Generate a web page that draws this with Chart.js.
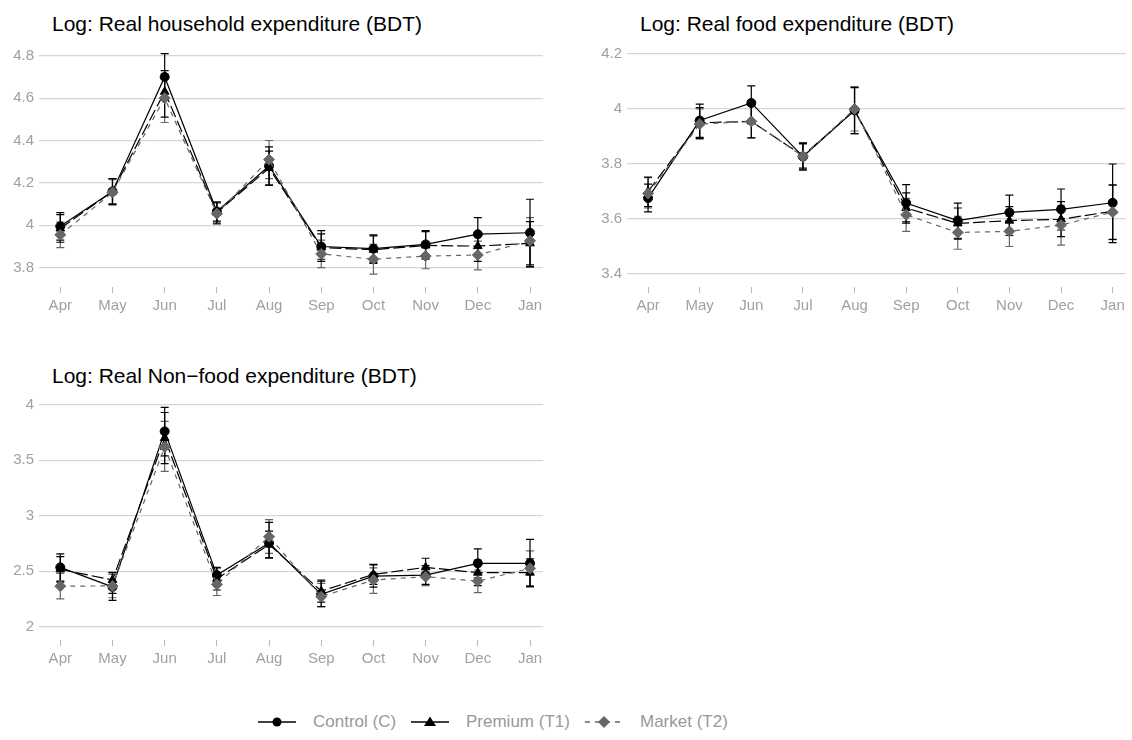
<!DOCTYPE html>
<html>
<head>
<meta charset="utf-8">
<script src="https://cdn.jsdelivr.net/npm/chart.js@4"></script>
<style>
  body { margin: 0; background: #fff; width: 1132px; height: 740px; position: relative; overflow: hidden;
         font-family: "Liberation Sans", Arial, sans-serif; }
  canvas { position: absolute; }
  .title { position: absolute; font-size: 21px; color: #000; white-space: nowrap; }
  .key { position: absolute; top: 712px; height: 20px; display: flex; align-items: center;
         font-size: 17px; color: #999; white-space: nowrap; }
  .key svg { margin-right: 17px; }
</style>
</head>
<body>
<div class="title" style="left:52px; top:12px;">Log: Real household expenditure (BDT)</div>
<div class="title" style="left:640px; top:12px;">Log: Real food expenditure (BDT)</div>
<div class="title" style="left:52px; top:364px;">Log: Real Non−food expenditure (BDT)</div>

<canvas id="hh" width="560" height="320" style="left:0; top:0;"></canvas>
<canvas id="food" width="544" height="320" style="left:588px; top:0;"></canvas>
<canvas id="nonfood" width="560" height="320" style="left:0; top:350px;"></canvas>

<div class="key" style="left:258px;">
  <svg width="38" height="16"><line x1="0" y1="8" x2="38" y2="8" stroke="#000" stroke-width="1.6"/><circle cx="19" cy="8" r="4.5" fill="#000"/></svg>
  Control (C)
</div>
<div class="key" style="left:411px;">
  <svg width="38" height="16"><line x1="0" y1="8" x2="38" y2="8" stroke="#000" stroke-width="1.6"/><polygon points="19,2.5 25,12 13,12" fill="#000"/></svg>
  Premium (T1)
</div>
<div class="key" style="left:585px;">
  <svg width="38" height="16"><line x1="0" y1="8" x2="38" y2="8" stroke="#666" stroke-width="1.6" stroke-dasharray="5,5"/><polygon points="19,2 25,8 19,14 13,8" fill="#666"/></svg>
  Market (T2)
</div>

<script>
var months = ["Apr", "May", "Jun", "Jul", "Aug", "Sep", "Oct", "Nov", "Dec", "Jan"];

// Log: Real household expenditure
var hhTicks = [3.8, 4, 4.2, 4.4, 4.6, 4.8];
var hhCtrl   = [3.995, 4.16, 4.70, 4.065, 4.28, 3.90, 3.89, 3.91, 3.958, 3.965];
var hhCtrlLo = [3.93, 4.10, 4.59, 4.02, 4.19, 3.84, 3.825, 3.845, 3.86, 3.805];
var hhCtrlHi = [4.06, 4.22, 4.81, 4.11, 4.37, 3.975, 3.955, 3.975, 4.036, 4.123];
var hhPrem   = [3.985, 4.16, 4.63, 4.06, 4.27, 3.895, 3.885, 3.905, 3.902, 3.915];
var hhPremLo = [3.92, 4.10, 4.51, 4.01, 4.19, 3.83, 3.82, 3.84, 3.83, 3.813];
var hhPremHi = [4.05, 4.22, 4.73, 4.11, 4.35, 3.96, 3.95, 3.97, 3.96, 4.017];
var hhMkt    = [3.955, 4.155, 4.60, 4.055, 4.31, 3.865, 3.84, 3.855, 3.86, 3.927];
var hhMktLo  = [3.895, 4.095, 4.485, 4.005, 4.22, 3.80, 3.77, 3.795, 3.79, 3.802];
var hhMktHi  = [4.015, 4.215, 4.715, 4.105, 4.40, 3.93, 3.91, 3.915, 3.925, 4.036];

// Log: Real food expenditure
var fdTicks = [3.4, 3.6, 3.8, 4, 4.2];
var fdCtrl   = [3.676, 3.958, 4.022, 3.827, 3.995, 3.658, 3.594, 3.624, 3.635, 3.659];
var fdCtrlLo = [3.626, 3.897, 3.958, 3.778, 3.91, 3.59, 3.527, 3.558, 3.56, 3.514];
var fdCtrlHi = [3.727, 4.018, 4.084, 3.877, 4.08, 3.725, 3.658, 3.687, 3.709, 3.80];
var fdPrem   = [3.70, 3.95, 3.955, 3.83, 3.995, 3.64, 3.584, 3.594, 3.599, 3.628];
var fdPremLo = [3.645, 3.893, 3.895, 3.785, 3.91, 3.585, 3.53, 3.54, 3.536, 3.526];
var fdPremHi = [3.752, 4.005, 4.015, 3.875, 4.078, 3.695, 3.64, 3.645, 3.663, 3.724];
var fdMkt    = [3.693, 3.945, 3.955, 3.828, 4.0, 3.615, 3.551, 3.555, 3.578, 3.625];
var fdMktLo  = [3.64, 3.89, 3.895, 3.78, 3.92, 3.555, 3.49, 3.50, 3.505, 3.525];
var fdMktHi  = [3.75, 4.00, 4.015, 3.872, 4.08, 3.675, 3.61, 3.61, 3.65, 3.722];

// Log: Real Non-food expenditure
var nfTicks = [2, 2.5, 3, 3.5, 4];
var nfCtrl   = [2.534, 2.358, 3.76, 2.464, 2.753, 2.29, 2.455, 2.464, 2.57, 2.57];
var nfCtrlLo = [2.41, 2.237, 3.54, 2.39, 2.62, 2.18, 2.355, 2.38, 2.44, 2.36];
var nfCtrlHi = [2.655, 2.486, 3.976, 2.535, 2.94, 2.41, 2.555, 2.55, 2.70, 2.786];
var nfPrem   = [2.516, 2.42, 3.70, 2.43, 2.74, 2.32, 2.47, 2.534, 2.486, 2.486];
var nfPremLo = [2.40, 2.30, 3.47, 2.33, 2.62, 2.22, 2.38, 2.44, 2.37, 2.36];
var nfPremHi = [2.63, 2.49, 3.93, 2.53, 2.86, 2.42, 2.56, 2.616, 2.60, 2.61];
var nfMkt    = [2.364, 2.367, 3.62, 2.38, 2.81, 2.27, 2.42, 2.45, 2.41, 2.525];
var nfMktLo  = [2.25, 2.26, 3.40, 2.28, 2.66, 2.18, 2.30, 2.37, 2.306, 2.37];
var nfMktHi  = [2.48, 2.47, 3.85, 2.48, 2.965, 2.39, 2.53, 2.53, 2.51, 2.683];

// draws the confidence intervals under the lines
const errorBars = {
  id: "errorBars",
  beforeDatasetsDraw(chart) {
    const ctx = chart.ctx, x = chart.scales.x, y = chart.scales.y;
    chart.data.datasets.forEach((ds) => {
      ctx.save();
      ctx.strokeStyle = ds.borderColor;
      ctx.lineWidth = 1.2;
      ds.lo.forEach((lo, i) => {
        const px = x.getPixelForValue(i);
        const y1 = y.getPixelForValue(lo), y2 = y.getPixelForValue(ds.hi[i]);
        ctx.beginPath();
        ctx.moveTo(px, y1); ctx.lineTo(px, y2);
        ctx.moveTo(px - 4, y1); ctx.lineTo(px + 4, y1);
        ctx.moveTo(px - 4, y2); ctx.lineTo(px + 4, y2);
        ctx.stroke();
      });
      ctx.restore();
    });
  }
};

function pts(vals) {
  return vals.map((v, i) => ({ x: i, y: v }));
}

function series(vals, lo, hi, color, style, radius, dash) {
  return {
    data: pts(vals), lo: lo, hi: hi,
    borderColor: color, backgroundColor: color,
    borderWidth: 1.2, borderDash: dash,
    pointStyle: style, pointRadius: radius, pointBorderWidth: 1,
    tension: 0,
  };
}

function makePanel(id, s, yMin, yMax, yTicks, xHeight, padRight) {
  let ctx = document.getElementById(id).getContext("2d");
  return new Chart(ctx, {
    type: "line",
    data: {
      datasets: [
        series(s[6], s[7], s[8], "#666666", "rectRot", 5.5, [5, 5]),
        series(s[3], s[4], s[5], "#000000", "triangle", 5, [12, 4]),
        series(s[0], s[1], s[2], "#000000", "circle", 4.5, []),
      ],
    },
    options: {
      responsive: false,
      animation: false,
      devicePixelRatio: 1,
      layout: { padding: { top: 43, right: padRight, left: 0, bottom: 0 } },
      plugins: { legend: { display: false }, tooltip: { enabled: false } },
      scales: {
        x: {
          type: "linear",
          min: -0.408,
          max: 9.249,
          afterBuildTicks: (sc) => { sc.ticks = months.map((m, i) => ({ value: i })); },
          afterFit: (sc) => { sc.height = xHeight; },
          ticks: {
            callback: (v) => months[v],
            color: "#a0a0a0",
            font: { family: "Liberation Sans", size: 15 },
            padding: 4,
            maxRotation: 0,
            autoSkip: false,
          },
          grid: { drawOnChartArea: false, drawTicks: true, tickLength: 6, tickColor: "#b8b8b8", lineWidth: 1 },
          border: { display: false },
        },
        y: {
          min: yMin,
          max: yMax,
          afterBuildTicks: (sc) => { sc.ticks = yTicks.map((v) => ({ value: v })); },
          afterFit: (sc) => { sc.width = 39; },
          ticks: {
            callback: (v) => String(+v.toFixed(2)),
            color: "#a0a0a0",
            font: { family: "Liberation Sans", size: 15 },
            padding: 5,
          },
          grid: { color: "#d6d6d6", lineWidth: 1.2, drawTicks: false },
          border: { display: false },
        },
      },
    },
    plugins: [errorBars],
  });
}

makePanel("hh", [hhCtrl, hhCtrlLo, hhCtrlHi, hhPrem, hhPremLo, hhPremHi, hhMkt, hhMktLo, hhMktHi],
  3.709, 4.86, hhTicks, 33, 17);
makePanel("food", [fdCtrl, fdCtrlLo, fdCtrlHi, fdPrem, fdPremLo, fdPremHi, fdMkt, fdMktLo, fdMktHi],
  3.3527, 4.24, fdTicks, 33, 1);
makePanel("nonfood", [nfCtrl, nfCtrlLo, nfCtrlHi, nfPrem, nfPremLo, nfPremHi, nfMkt, nfMktLo, nfMktHi],
  1.879, 4.106, nfTicks, 30, 17);
</script>
</body>
</html>
